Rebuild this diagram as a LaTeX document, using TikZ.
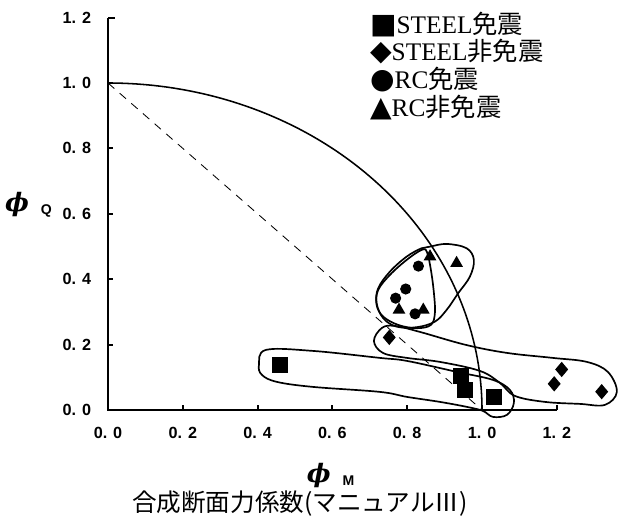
\documentclass[tikz,border=0pt]{standalone}
\usepackage{fontspec}
\setmainfont{Liberation Serif}
\setsansfont{Liberation Sans}
\newfontfamily\cjk{Noto Sans CJK JP}
\newfontfamily\markfont{DejaVu Sans}
\newfontfamily\phifont{DejaVu Serif}
\usetikzlibrary{shapes.geometric}

\tikzset{
  axis/.style={line width=2pt},
  tick/.style={line width=1.4pt},
  ticklab/.style={font=\sffamily\bfseries\fontsize{11.5}{11.5}\selectfont, inner sep=0},
  legend/.style={anchor=west, inner sep=0, font=\fontsize{18}{20}\selectfont},
  axtitle/.style={inner sep=0},
  hull/.style={line width=1.2pt},
  sqmark/.style={rectangle, fill=black, minimum size=0.4cm, inner sep=0},
  diamark/.style={diamond, fill=black, minimum width=0.33cm, minimum height=0.39cm, inner sep=0},
  dotmark/.style={circle, fill=black, minimum size=0.28cm, inner sep=0},
  trimark/.style={regular polygon, regular polygon sides=3, fill=black, minimum size=0.37cm, inner sep=0}
}

\begin{document}
\begin{tikzpicture}[x=9.35cm, y=8.175cm]

\useasboundingbox (-0.2888,-0.3394) rectangle (1.3636,1.2538);

% axes
\draw[axis] (0,1.2) -- (0,0) -- (1.2,0);
\draw[tick] (0,1.2) -- ++(0.018,0);
\foreach \v in {0.2,0.4,0.6,0.8,1.0}
  \draw[tick] (0,\v) -- ++(0.014,0);
\foreach \v in {0.2,0.4,0.6,0.8,1.0,1.2}
  \draw[tick] (\v,0) -- ++(0,0.016);

% tick labels
\foreach \v/\t in {0/0. 0,0.2/0. 2,0.4/0. 4,0.6/0. 6,0.8/0. 8,1.0/1. 0,1.2/1. 2}
  \node[ticklab] at (-0.083,\v) {\t};
\foreach \v/\t in {0/0. 0,0.2/0. 2,0.4/0. 4,0.6/0. 6,0.8/0. 8,1.0/1. 0,1.2/1. 2}
  \node[ticklab] at (\v,-0.070) {\t};

% axis titles
\node (phiQ) [axtitle] at (-0.2126,0.627) {{\phifont\bfseries\itshape\fontsize{18}{18}\selectfont ϕ}\hspace{0.3cm}\raisebox{-0.5ex}{\sffamily\bfseries\fontsize{10}{12}\selectfont Q}};
\node (phiM) [axtitle] at (0.595,-0.200) {{\phifont\bfseries\itshape\fontsize{18}{18}\selectfont ϕ}\hspace{0.3cm}\raisebox{-0.5ex}{\sffamily\bfseries\fontsize{10}{12}\selectfont M}};
\node (caption) [axtitle] at (0.513,-0.287) {\cjk\fontsize{17.5}{18}\selectfont 合成断面力係数(マニュアルⅢ)};

% interaction curve and straight line
\draw[line width=1.1pt] plot[domain=0:90, samples=80] ({cos(\x)},{sin(\x)});
\draw[line width=0.6pt, dash pattern=on 6pt off 5pt] (0,1) -- (1,0);

% hand drawn groups (pixel units)
\begin{scope}[x=0.025cm, y=-0.025cm, shift={(-2.7cm,10.25cm)}]
\draw[hull] plot[smooth cycle, tension=0.6] coordinates {
  (421.7,250) (406.7,260) (390,275) (378.3,290) (376.7,305) (383.3,316.7)
  (398.3,325) (416.7,328.3) (431,325) (435,313) (434,293) (431,270) (427,252)};
\draw[hull] plot[smooth cycle, tension=0.6] coordinates {
  (430,246.7) (446.7,244) (466.7,248.3) (474,260) (470,276.7) (458.3,293.3)
  (446.7,310) (435,321.7) (416.7,327.3) (396.7,326.7) (383.3,318.3)
  (376.7,303.3) (378.3,288.3) (390,271.7) (406.7,256.7) (421.7,248.3)};
\draw[hull] plot[smooth cycle, tension=0.6] coordinates {
  (374,341) (382,328) (395,326) (420,332) (466,345) (507,353) (553,358)
  (587,362) (608,372) (617,392) (605,405) (580,404) (545,402) (515,396)
  (500,383) (480,371) (440,362) (407,358) (383,353)};
\draw[hull] plot[smooth cycle, tension=0.6] coordinates {
  (259,365) (266,350) (313,351) (380,358) (407,361) (457,372) (493,380)
  (510,390) (514,403) (507,415) (493,417) (483,411) (467,407) (440,402)
  (407,397) (380,392) (313,387) (277,382) (262,375)};
\end{scope}

% STEEL base isolated
\node (s1) [sqmark] at (0.461,0.138) {};
\node (s2) [sqmark] at (0.944,0.104) {};
\node (s3) [sqmark] at (0.955,0.061) {};
\node (s4) [sqmark] at (1.031,0.040) {};
% STEEL not isolated
\node (d1) [diamark] at (0.752,0.222) {};
\node (d2) [diamark] at (1.213,0.124) {};
\node (d3) [diamark] at (1.193,0.080) {};
\node (d4) [diamark] at (1.320,0.056) {};
% RC base isolated
\node (c1) [dotmark] at (0.830,0.440) {};
\node (c2) [dotmark] at (0.796,0.370) {};
\node (c3) [dotmark] at (0.769,0.342) {};
\node (c4) [dotmark] at (0.821,0.294) {};
% RC not isolated
\node (t1) [trimark] at (0.861,0.469) {};
\node (t2) [trimark] at (0.932,0.449) {};
\node (t3) [trimark] at (0.778,0.306) {};
\node (t4) [trimark] at (0.843,0.306) {};

% legend
\node (lg1) [legend] at (0.700,1.180) {{\markfont\fontsize{20}{20}\selectfont ■}STEEL{\cjk 免震}};
\node (lg2) [legend] at (0.700,1.095) {{\markfont\fontsize{20}{20}\selectfont ◆}STEEL{\cjk 非免震}};
\node (lg3) [legend] at (0.700,1.009) {{\markfont\fontsize{20}{20}\selectfont ●}RC{\cjk 免震}};
\node (lg4) [legend] at (0.700,0.924) {{\markfont\fontsize{20}{20}\selectfont ▲}RC{\cjk 非免震}};

\end{tikzpicture}
\end{document}
